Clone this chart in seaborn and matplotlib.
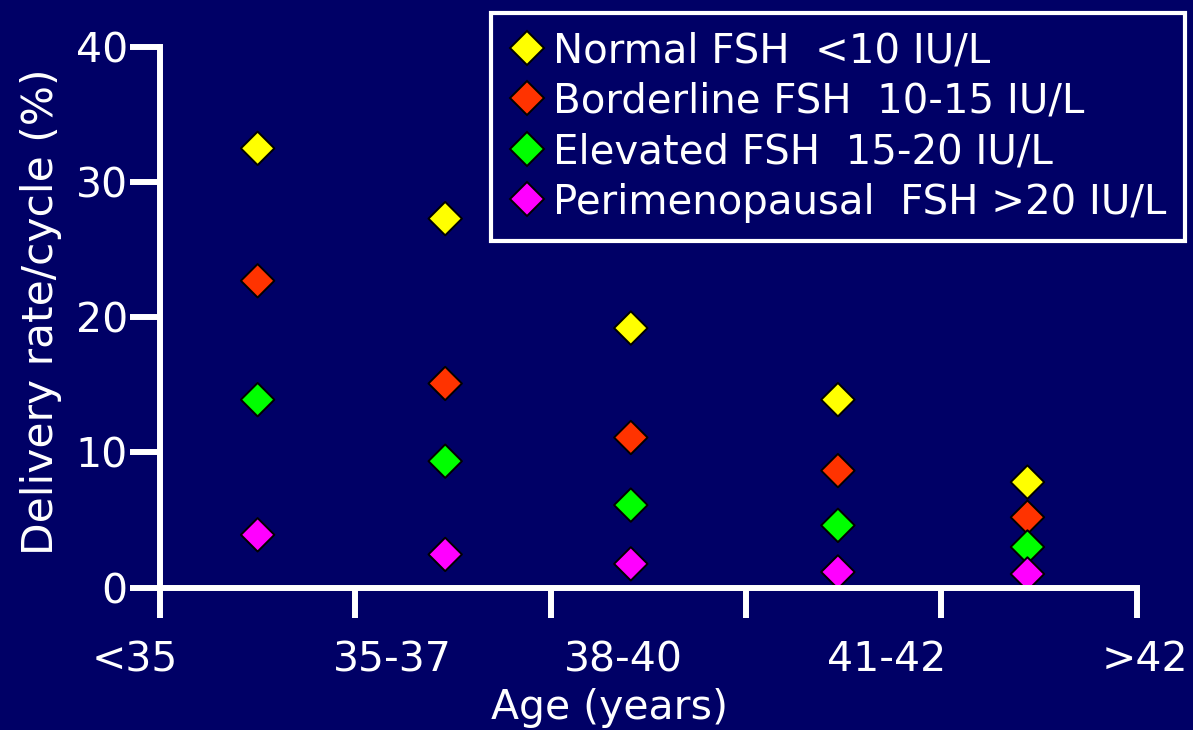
import pandas as pd
import matplotlib.pyplot as plt
from matplotlib.lines import Line2D
import seaborn as sns

# Colours
navy = '#000066'
sns.set_style('ticks', {'axes.facecolor': navy, 'figure.facecolor': navy})
plt.rcParams['font.family'] = ['DejaVu Sans']
plt.rcParams['text.color'] = 'white'

# Data
age_groups = ['<35', '35-37', '38-40', '41-42', '>42']
age_x = [0.50, 1.46, 2.41, 3.47, 4.44]
label_x = [-0.13, 1.19, 2.37, 3.72, 5.04]
tick_x = [0, 1, 2, 3, 4, 5]
y_ticks = [0, 10, 20, 30, 40]

normal = [32.5, 27.3, 19.2, 13.9, 7.8]
borderline = [22.7, 15.1, 11.1, 8.65, 5.2]
elevated = [13.9, 9.35, 6.1, 4.6, 3.0]
perimenopausal = [3.9, 2.45, 1.75, 1.15, 1.0]

series_names = ['Normal FSH  <10 IU/L', 'Borderline FSH  10-15 IU/L',
                'Elevated FSH  15-20 IU/L', 'Perimenopausal  FSH >20 IU/L']
series_values = [normal, borderline, elevated, perimenopausal]
colors = ['#FFFF00', '#FF3300', '#00FF00', '#FF00FF']

# Long-form table for seaborn
rows = []
for name, vals in zip(series_names, series_values):
    for x, v in zip(age_x, vals):
        rows.append({'x': x, 'rate': v, 'group': name})
df = pd.DataFrame(rows)

fig = plt.figure(figsize=(11.93, 7.30), dpi=100)
ax = fig.add_axes([0.1013, 0.1952, 0.8844, 0.7404])

sns.scatterplot(data=df, x='x', y='rate', hue='group', hue_order=series_names,
                palette=colors, marker='D', s=290, edgecolor='black',
                linewidth=1.4, legend=False, ax=ax)

ax.set_xlim(-0.2, 5.2)
ax.set_ylim(0, 40)

# Spines
for side in ['top', 'right']:
    ax.spines[side].set_visible(False)
for side in ['left', 'bottom']:
    ax.spines[side].set_color('white')
    ax.spines[side].set_linewidth(4.3)
ax.spines['left'].set_position(('data', 0))
ax.spines['left'].set_bounds(0, 40)
ax.spines['bottom'].set_bounds(0, 5)

# Ticks
ax.set_yticks(y_ticks)
ax.set_xticks(tick_x)
ax.set_xticklabels([])
ax.set_xticks(label_x, minor=True)
ax.set_xticklabels(age_groups, minor=True)
ax.tick_params(which='major', colors='white', width=4.3, length=21.6,
               direction='out', labelsize=29.5)
ax.tick_params(axis='y', pad=1.5)
ax.tick_params(axis='x', which='minor', length=0, pad=38, labelsize=29.5,
               labelcolor='white')

# Axis labels
ax.set_xlabel('Age (years)', fontsize=29.5, color='white')
ax.set_ylabel('Delivery rate/cycle (%)', fontsize=30.5, color='white')
ax.xaxis.set_label_coords(0.4627, -0.186)
ax.yaxis.set_label_coords(-0.0555, 0.511)

# Legend
handles = [Line2D([], [], marker='D', linestyle='', markersize=17.5,
                  markerfacecolor=c, markeredgecolor='black',
                  markeredgewidth=1.4) for c in colors]
leg = ax.legend(handles, series_names, loc='upper left',
                bbox_to_anchor=(491 / 1193, 1 - 13 / 730),
                bbox_transform=fig.transFigure, borderaxespad=0,
                fontsize=29, frameon=True, fancybox=False, borderpad=0.45,
                handlelength=0.9, handletextpad=0.2, labelspacing=0.26,
                facecolor=navy, edgecolor='white', framealpha=1)
leg.get_frame().set_linewidth(3)
for t in leg.get_texts():
    t.set_color('white')

fig.savefig('out.png', dpi=100, facecolor=navy)
